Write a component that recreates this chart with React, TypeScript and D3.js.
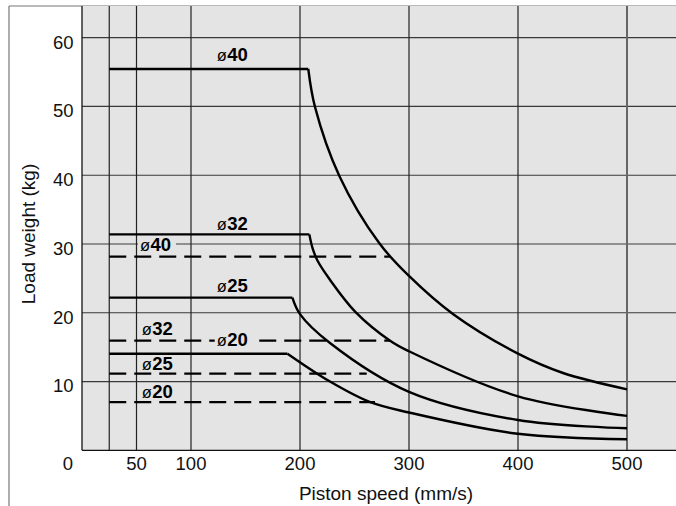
import React from "react";
import * as d3 from "d3";

// ---- data ----
const xTickValues = [0, 50, 100, 200, 300, 400, 500];
const xGridValues = [25, 50, 100, 200, 300, 400, 500];
const yTickValues = [10, 20, 30, 40, 50, 60];

// solid curves: [speed mm/s, load kg] (first point = start of flat part, second = knee)
const solid40: [number, number][] = [[25, 55.45], [207.6, 55.45], [213.8, 49.9], [236.1, 39.9], [272.8, 30.1], [300, 25.35], [340.6, 19.78], [400, 14.05], [441.3, 11.24], [500, 8.87]];
const solid32: [number, number][] = [[25, 31.4], [208.6, 31.4], [211.5, 29.4], [216, 27.6], [227.5, 24.8], [251, 20.1], [283, 15.9], [300, 14.4], [400, 7.85], [500, 5.0]];
const solid25: [number, number][] = [[25, 22.2], [193, 22.2], [200, 19.8], [227.5, 15.6], [300, 8.5], [400, 4.4], [500, 3.2]];
const solid20: [number, number][] = [[25, 14.05], [188.5, 14.05], [227.5, 10.0], [264.5, 7.0], [300, 5.5], [400, 2.4], [500, 1.6]];

// dashed lines: [startSpeed, endSpeed, load]
const dashed40: [number, number, number] = [25, 282.6, 28.15];
const dashed32: [number, number, number] = [25, 282.6, 15.94];
const dashed25: [number, number, number] = [25, 261.2, 11.14];
const dashed20: [number, number, number] = [25, 268.8, 7.02];

// labels: text, speed (left edge), load (baseline)
const labelTexts = ["40", "32", "40", "25", "32", "20", "25", "20"];
const labelSpeeds = [123.6, 123.6, 53.2, 123.6, 54.8, 123.6, 54.8, 54.8];
const labelLoads = [56.65, 32.03, 29.02, 23.06, 16.77, 15.21, 11.68, 7.56];

const solidSeries = [solid40, solid32, solid25, solid20];
const dashedSeries = [dashed40, dashed32, dashed25, dashed20];

const W = 676;
const H = 506;
const FONT = "'Liberation Sans', Arial, Helvetica, sans-serif";
const BG = "#e4e4e4";

export default function App() {
  const x = d3.scaleLinear().domain([0, 500]).range([82, 627]);
  const y = d3.scaleLinear().domain([0, 60]).range([450.3, 37.7]);
  const plotLeft = 82;
  const plotRight = W;
  const plotTop = 6;
  const plotBottom = y(0);

  const line = d3
    .line<[number, number]>()
    .x((d) => x(d[0]))
    .y((d) => y(d[1]));
  const curveLine = d3
    .line<[number, number]>()
    .x((d) => x(d[0]))
    .y((d) => y(d[1]))
    .curve(d3.curveCatmullRom.alpha(0.5));

  return (
    <svg
      width={W}
      height={H}
      style={{ position: "absolute", left: 0, top: 0, background: "#fff" }}
      fontFamily={FONT}
    >
      {/* outer frame */}
      <line x1={9} x2={W} y1={6} y2={6} stroke="#777" strokeWidth={1.2} />
      <line x1={9} x2={9} y1={6} y2={H} stroke="#777" strokeWidth={1.2} />

      {/* plot background */}
      <rect x={plotLeft} y={plotTop} width={plotRight - plotLeft} height={plotBottom - plotTop} fill={BG} />

      {/* horizontal grid */}
      {yTickValues.map((v) => (
        <line key={"hy" + v} x1={plotLeft} x2={plotRight} y1={y(v)} y2={y(v)} stroke="#3a3a3a" strokeWidth={1.2} />
      ))}
      {/* vertical grid */}
      {xGridValues.map((v) => (
        <line
          key={"gx" + v}
          x1={x(v)}
          x2={x(v)}
          y1={plotTop}
          y2={plotBottom}
          stroke={v === 500 ? "#666" : "#222"}
          strokeWidth={v === 500 ? 2 : 1.2}
        />
      ))}

      {/* axes */}
      <line x1={plotLeft} x2={plotLeft} y1={plotTop} y2={plotBottom} stroke="#111" strokeWidth={1.3} />
      <line x1={plotLeft} x2={plotRight} y1={plotBottom} y2={plotBottom} stroke="#111" strokeWidth={1.3} />

      {/* dashed lines */}
      {dashedSeries.map((d, i) => (
        <path
          key={"d" + i}
          d={line([[d[0], d[2]], [d[1], d[2]]]) || ""}
          fill="none"
          stroke="#000"
          strokeWidth={2.3}
          strokeDasharray="17,8"
        />
      ))}

      {/* solid curves */}
      {solidSeries.map((s, i) => (
        <g key={"s" + i}>
          <path d={line(s.slice(0, 2)) || ""} fill="none" stroke="#000" strokeWidth={2.4} />
          <path d={curveLine(s.slice(1)) || ""} fill="none" stroke="#000" strokeWidth={2.4} strokeLinejoin="round" />
        </g>
      ))}

      {/* series labels */}
      {labelTexts.map((t, i) => {
        const lx = x(labelSpeeds[i]);
        const ly = y(labelLoads[i]);
        return (
          <g key={"l" + i}>
            <rect x={lx - 2} y={ly - 14} width={38} height={15.5} fill={BG} />
            <text x={lx} y={ly} fill="#000">
              <tspan fontSize={16.5}>ø</tspan>
              <tspan fontSize={18.5} fontWeight="bold" dx={0.5}>{t}</tspan>
            </text>
          </g>
        );
      })}

      {/* y tick labels */}
      {yTickValues.map((v) => (
        <text key={"ty" + v} x={73.5} y={y(v) + 10.8} textAnchor="end" fontSize={18.5} fill="#111">
          {v}
        </text>
      ))}
      {/* x tick labels */}
      {xTickValues.map((v) => (
        <text
          key={"tx" + v}
          x={v === 0 ? 68 : x(v)}
          y={470}
          textAnchor="middle"
          fontSize={18.5}
          fill="#111"
        >
          {v}
        </text>
      ))}

      {/* axis titles */}
      <text x={386} y={500} textAnchor="middle" fontSize={19} fill="#111">
        Piston speed (mm/s)
      </text>
      <text transform="translate(34.5,234) rotate(-90)" textAnchor="middle" fontSize={19} fill="#111">
        Load weight (kg)
      </text>
    </svg>
  );
}
